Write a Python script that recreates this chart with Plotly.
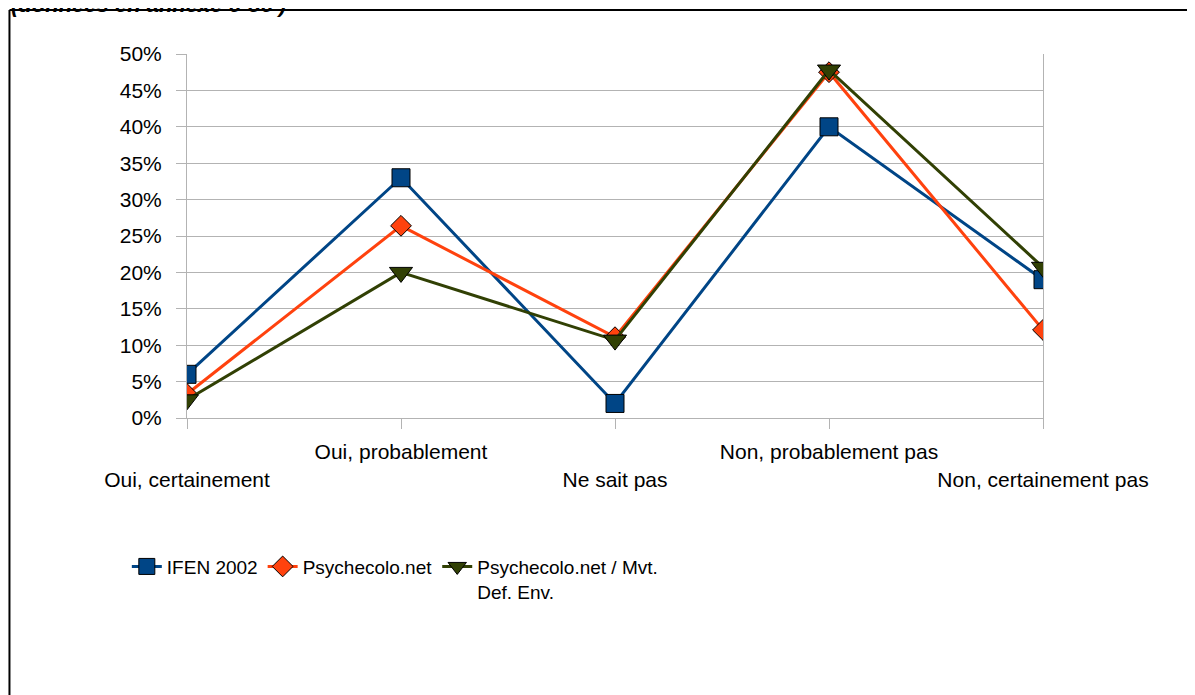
import plotly.graph_objects as go

categories = ["Oui, certainement", "Oui, probablement", "Ne sait pas",
              "Non, probablement pas", "Non, certainement pas"]
ifen_2002 = [0.06, 0.33, 0.02, 0.40, 0.19]
psychecolo = [0.033, 0.264, 0.111, 0.475, 0.121]
psychecolo_mvt = [0.025, 0.200, 0.107, 0.478, 0.207]
series_names = ["IFEN 2002", "Psychecolo.net", "Psychecolo.net / Mvt.<br>Def. Env."]
y_ticks = [0, 0.05, 0.10, 0.15, 0.20, 0.25, 0.30, 0.35, 0.40, 0.45, 0.50]

FONT = "Liberation Sans, Arial, sans-serif"
x_idx = list(range(len(categories)))
tick_text = [("<br>" + c) if i % 2 == 0 else c for i, c in enumerate(categories)]

fig = go.Figure()
styles = [
    (ifen_2002, "#004586", "square", 18),
    (psychecolo, "#ff420e", "diamond", 16),
    (psychecolo_mvt, "#314004", "triangle-down", 20),
]
for (vals, col, sym, sz), name in zip(styles, series_names):
    fig.add_trace(go.Scatter(
        x=x_idx, y=vals, name=name, mode="lines+markers",
        line=dict(color=col, width=3),
        marker=dict(symbol=sym, size=sz, color=col, line=dict(color="black", width=1)),
    ))

fig.update_layout(
    width=1195, height=695,
    margin=dict(l=179, r=160, t=46, b=285, autoexpand=False),
    paper_bgcolor="white", plot_bgcolor="white",
    font=dict(family=FONT, size=21, color="black"),
    showlegend=True,
    legend=dict(orientation="h", x=-0.0703, xanchor="left", y=-0.356, yanchor="top",
                valign="top", font=dict(size=19), itemwidth=30,
                tracegroupgap=0, bgcolor="rgba(0,0,0,0)"),
    xaxis=dict(range=[0, 4], tickmode="array", tickvals=x_idx, ticktext=tick_text,
               tickangle=0,
               showgrid=False, zeroline=False, showline=True, linecolor="#b3b3b3",
               ticks="outside", ticklen=10, tickcolor="#b3b3b3", ticklabelstandoff=5,
               tickfont=dict(size=21)),
    yaxis=dict(range=[0, 0.5], tickmode="array", tickvals=y_ticks, tickformat=".0%",
               showgrid=True, gridcolor="#b3b3b3", gridwidth=1, zeroline=False,
               showline=True, linecolor="#b3b3b3", mirror=True,
               ticks="outside", ticklen=10, tickcolor="#b3b3b3", ticklabelstandoff=10,
               tickfont=dict(size=21)),
    shapes=[
        dict(type="line", xref="paper", yref="paper", x0=-0.2074, x1=1.2, y0=1.1209, y1=1.1209,
             line=dict(color="black", width=2)),
        dict(type="line", xref="paper", yref="paper", x0=-0.2074, x1=-0.2074, y0=1.1209, y1=-0.8,
             line=dict(color="black", width=2)),
    ],
    annotations=[
        dict(text="<b><i>(données en annexe 6-56 )</i></b>", xref="paper", yref="paper",
             x=-0.2085, xanchor="left", y=1.135, yanchor="middle", showarrow=False,
             font=dict(size=22, family=FONT, color="black")),
    ],
)

fig.write_html("out.html")
